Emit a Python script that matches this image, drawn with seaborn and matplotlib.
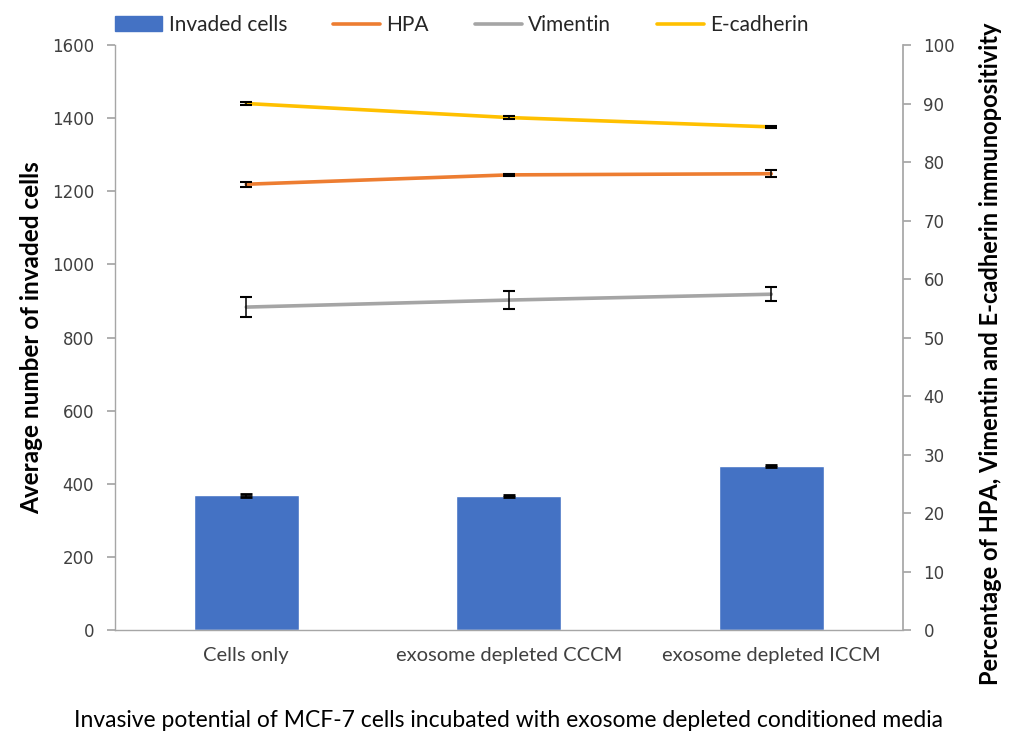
import numpy as np
import pandas as pd
import matplotlib
matplotlib.use("Agg")
import matplotlib.pyplot as plt
from matplotlib.lines import Line2D
from matplotlib.patches import Patch
import seaborn as sns

# Data
categories = ["Cells only", "exosome depleted CCCM", "exosome depleted ICCM"]
invaded_cells = [368, 366, 449]
invaded_err = [3, 3, 3]
hpa = [76.2, 77.8, 78.0]
hpa_err = [0.4, 0.2, 0.6]
vimentin = [55.2, 56.4, 57.4]
vimentin_err = [1.7, 1.6, 1.2]
ecadherin = [90.0, 87.6, 86.0]
ecadherin_err = [0.2, 0.3, 0.2]
left_ticks = [0, 200, 400, 600, 800, 1000, 1200, 1400, 1600]
right_ticks = [0, 10, 20, 30, 40, 50, 60, 70, 80, 90, 100]

BLUE = "#4472C4"
ORANGE = "#ED7D31"
GREY = "#A5A5A5"
GOLD = "#FFC000"
AXIS = "#A6A6A6"
TXT = "#404040"

sns.set_theme(style="white")
plt.rcParams["font.family"] = ["Lato", "DejaVu Sans"]

fig = plt.figure(figsize=(10.13, 7.33), dpi=100)
ax = fig.add_axes([0.1135, 0.1405, 0.7775, 0.7981])

df = pd.DataFrame({"cat": categories, "cells": invaded_cells})
sns.barplot(data=df, x="cat", y="cells", color=BLUE, width=0.4,
            saturation=1, ax=ax, errorbar=None)
pos = np.arange(len(categories))
ax.errorbar(pos, invaded_cells, yerr=invaded_err, fmt="none", ecolor="black",
            elinewidth=1.2, capsize=4, capthick=2)

ax.set_xlim(-0.5, len(categories) - 0.5)
ax.set_ylim(0, 1600)
ax.set_yticks(left_ticks)
ax.set_yticklabels([str(t) for t in left_ticks], family="DejaVu Sans",
                   fontsize=12, color=TXT)
ax.set_xticks(pos)
ax.set_xticklabels(categories, fontsize=14.5, color=TXT)
ax.set_xticks(np.arange(-0.5, len(categories), 1.0), minor=True)
ax.tick_params(axis="x", which="major", length=0, pad=12)
ax.tick_params(axis="x", which="minor", length=5, color=AXIS, direction="out")
ax.tick_params(axis="y", length=6, color=AXIS, direction="out", left=True, pad=9)
for s in ["top", "right"]:
    ax.spines[s].set_visible(False)
for s in ["left", "bottom"]:
    ax.spines[s].set_color(AXIS)
    ax.spines[s].set_linewidth(1)
ax.set_ylabel("Average number of invaded cells", fontsize=17.5,
              fontweight="bold", color="black", labelpad=6)
ax.set_xlabel("Invasive potential of MCF-7 cells incubated with exosome depleted conditioned media",
              fontsize=16.5, color="black", labelpad=33)

# Immunopositivity series on the secondary axis
ax2 = ax.twinx()
series = [("HPA", hpa, hpa_err, ORANGE),
          ("Vimentin", vimentin, vimentin_err, GREY),
          ("E-cadherin", ecadherin, ecadherin_err, GOLD)]
for name, vals, errs, col in series:
    sns.lineplot(x=pos, y=vals, color=col, linewidth=2.6, ax=ax2,
                 legend=False, zorder=3)
    ax2.errorbar(pos, vals, yerr=errs, fmt="none", ecolor="black",
                 elinewidth=1.1, capsize=4, capthick=1.5, zorder=4)
ax2.set_ylim(0, 100)
ax2.set_yticks(right_ticks)
ax2.set_yticklabels([str(t) for t in right_ticks], family="DejaVu Sans",
                    fontsize=12, color=TXT)
ax2.tick_params(axis="y", length=6, color=AXIS, direction="out", right=True, pad=9)
for s in ["top", "left", "bottom"]:
    ax2.spines[s].set_visible(False)
ax2.spines["right"].set_color(AXIS)
ax2.set_ylabel("Percentage of HPA, Vimentin and E-cadherin immunopositivity",
               fontsize=17, fontweight="bold", color="black")
ax2.yaxis.set_label_coords(1.097, 0.472)
ax2.grid(False)
ax.grid(False)

handles = [Patch(facecolor=BLUE, edgecolor=BLUE, label="Invaded cells"),
           Line2D([], [], color=ORANGE, lw=2.6, label="HPA"),
           Line2D([], [], color=GREY, lw=2.6, label="Vimentin"),
           Line2D([], [], color=GOLD, lw=2.6, label="E-cadherin")]
fig.legend(handles=handles, loc="center", bbox_to_anchor=(0.456, 0.966),
           ncol=4, frameon=False, fontsize=15, handlelength=2.26,
           columnspacing=2.2, handletextpad=0.3, borderpad=0, borderaxespad=0)

fig.savefig("out.png", dpi=100)
